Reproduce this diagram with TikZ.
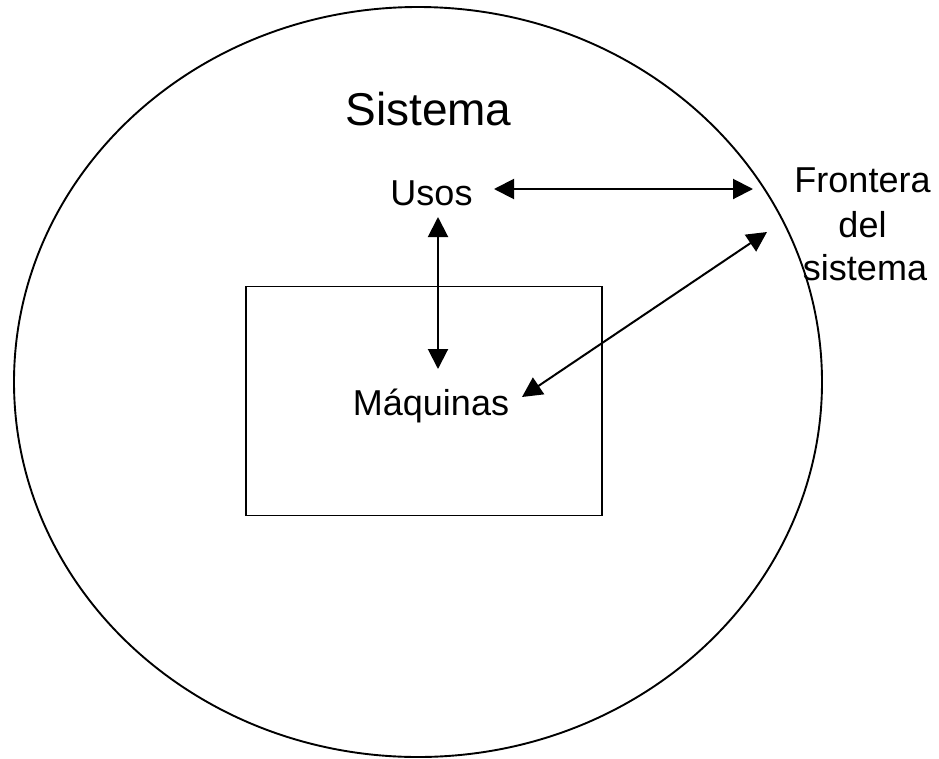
\documentclass[tikz,border=0pt]{standalone}
\usepackage{fontspec}
\setmainfont{Liberation Sans}
\usetikzlibrary{arrows.meta,shapes.geometric}
\begin{document}
\begin{tikzpicture}[x=1pt,y=-1pt,
  lbl/.style={inner sep=0pt,anchor=base,font=\fontsize{36}{40}\selectfont},
  big/.style={inner sep=0pt,anchor=base,font=\fontsize{46}{52}\selectfont},
  conn/.style={line width=2pt,{Triangle[length=20pt,width=20pt]}-{Triangle[length=20pt,width=20pt]}},
  shp/.style={draw,line width=1.9pt,inner sep=0pt}]
\useasboundingbox[fill=white] (0,0) rectangle (939,758);
\node[shp,ellipse,minimum width=808pt,minimum height=750pt] (sys) at (418,382) {};
\node[shp,rectangle,minimum width=356pt,minimum height=229pt] (box) at (424,401) {};
\node[big] (sistema) at (428.5,125) {Sistema};
\node[lbl] (usos) at (431.5,205) {Usos};
\node[lbl] (maq) at (431,415) {Máquinas};
\node[lbl] (front) at (862.5,192) {Frontera};
\node[lbl] (del) at (862.5,237) {del};
\node[lbl] (sist) at (865,280) {sistema};
\coordinate (hL) at (494,189);
\coordinate (hR) at (753,189);
\coordinate (vT) at (438,217);
\coordinate (vB) at (438,369);
\coordinate (dT) at (767,232);
\coordinate (dB) at (522,397);
\draw[conn] (hL) -- (hR);
\draw[conn] (vT) -- (vB);
\draw[conn] (dB) -- (dT);
\end{tikzpicture}
\end{document}
